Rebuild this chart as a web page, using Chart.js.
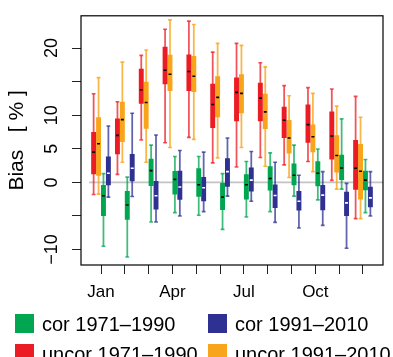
<!DOCTYPE html>
<html><head><meta charset="utf-8">
<script src="https://cdn.jsdelivr.net/npm/chart.js@4.4.0/dist/chart.umd.min.js"></script>
<style>
html,body{margin:0;padding:0;background:#fff;}
#wrap{position:relative;width:393px;height:357px;overflow:hidden;}
#c{position:absolute;left:0;top:0;}
.lgt{position:absolute;font-family:"Liberation Sans",Arial,sans-serif;font-size:20px;line-height:20px;color:#000;white-space:nowrap;}
.lgs{position:absolute;width:19px;height:19px;}
</style></head><body>
<div id="wrap"><canvas id="c" width="393" height="357"></canvas><div id="legend"></div></div>
<script>
// ---------- data ----------
const months = [1,2,3,4,5,6,7,8,9,10,11,12];
const monthLabels = ['Jan','','','Apr','','','Jul','','','Oct','',''];
const yTickValues = [-10,-5,0,5,10,15,20];
const yTickLabels = ['\u221210','','0','5','10','','20'];

const seriesNames  = ['uncor 1971\u20131990','uncor 1991\u20132010','cor 1971\u20131990','cor 1991\u20132010'];
const seriesColors = ['#EC1C24','#F9A51B','#00A650','#2E3192'];
const whiskerColors= ['rgba(236,28,36,0.75)','rgba(249,165,27,0.8)','rgba(0,166,80,0.75)','rgba(46,49,146,0.75)'];
const medianColors = ['#000','#000','#000','#fff'];
const legendOrder  = [2,3,0,1];

// uncor 1971–1990
const uncor7190Min = [-1.8, 1.2, 6.3, 5.9, 6.7, 2.9, 2.3, 3.7, 2.6, 3.1, 0.3, -5.4];
const uncor7190Q1  = [1.2, 4.2, 11.7, 14.6, 13.6, 8.1, 9.1, 9.1, 6.6, 5.9, 3.4, -1.1];
const uncor7190Med = [4.5, 7.0, 13.8, 16.7, 16.5, 11.6, 13.4, 12.55, 9.25, 8.6, 6.9, 2.1];
const uncor7190Q3  = [7.5, 9.5, 16.9, 20.2, 19.05, 14.7, 15.6, 14.85, 11.25, 11.6, 10.55, 6.3];
const uncor7190Max = [13.2, 12.0, 18.9, 22.8, 24.0, 19.4, 20.7, 17.8, 14.4, 14.1, 13.9, 12.8];
// uncor 1991–2010
const uncor9110Min = [-1.75, 3.0, 3.0, 5.2, 6.4, 3.65, 5.2, 2.4, 0.73, 1.6, -1.0, -5.4];
const uncor9110Q1  = [1.0, 6.0, 8.0, 13.6, 13.45, 9.7, 10.3, 7.95, 4.3, 4.5, 1.46, -2.55];
const uncor9110Med = [5.75, 9.35, 11.9, 16.1, 15.8, 12.65, 13.25, 10.5, 6.6, 6.8, 4.0, 1.65];
const uncor9110Q3  = [9.7, 12.0, 15.0, 19.0, 18.8, 15.8, 16.1, 13.2, 9.3, 8.6, 7.0, 5.7];
const uncor9110Max = [15.6, 17.9, 19.7, 24.2, 23.5, 20.7, 20.4, 17.2, 12.9, 13.25, 11.35, 9.7];
// cor 1971–1990
const cor7190Min = [-9.5, -11.1, -5.9, -4.5, -4.9, -7.0, -5.15, -4.35, -2.05, -2.6, -1.0, -4.5];
const cor7190Q1  = [-5.0, -5.55, -0.54, -1.8, -2.15, -4.1, -2.55, -1.2, -0.44, -0.58, 0.35, -1.17];
const cor7190Med = [-2.0, -3.36, 1.75, 0.44, -0.35, -2.2, -0.35, 0.58, 1.07, 1.36, 2.15, 0.34];
const cor7190Q3  = [-0.4, -1.3, 3.5, 1.7, 2.1, -0.1, 1.2, 2.4, 2.8, 3.16, 4.1, 1.75];
const cor7190Max = [1.3, 0.78, 5.55, 3.86, 3.85, 1.3, 3.1, 4.4, 5.55, 4.97, 9.45, 3.4];
// cor 1991–2010
const cor9110Min = [-2.2, -2.1, -5.9, -5.0, -4.35, -2.05, -2.8, -5.95, -6.8, -6.4, -9.8, -5.0];
const cor9110Q1  = [-0.44, 0.15, -4.05, -2.6, -2.8, -0.64, -1.37, -3.8, -4.2, -4.15, -5.0, -3.7];
const cor9110Med = [1.36, 2.1, -2.0, -0.69, -0.8, 1.6, 0.34, -1.95, -2.8, -1.9, -3.05, -2.3];
const cor9110Q3  = [3.85, 4.24, 0.19, 1.75, 0.8, 3.6, 2.2, -0.3, -1.27, -0.4, -1.4, -0.64];
const cor9110Max = [8.4, 10.3, 7.05, 4.74, 4.5, 6.6, 4.6, 3.0, 1.07, 1.6, -0.15, 1.6];

const seriesStats = [
  [uncor7190Min, uncor7190Q1, uncor7190Med, uncor7190Q3, uncor7190Max],
  [uncor9110Min, uncor9110Q1, uncor9110Med, uncor9110Q3, uncor9110Max],
  [cor7190Min, cor7190Q1, cor7190Med, cor7190Q3, cor7190Max],
  [cor9110Min, cor9110Q1, cor9110Med, cor9110Q3, cor9110Max]
];

const X_MIN = 0.16, X_MAX = 12.84, Y_MIN = -12.3, Y_MAX = 24.8;
const CAT_PCT = 0.826;
const TICK_H = 0.12;   // half-height (data units) of the median/cap strokes
const FONT = '"Liberation Sans", Arial, sans-serif';

// ---------- datasets ----------
const datasets = [];
seriesStats.forEach((st, s) => {
  const [mn, q1, md, q3, mx] = st;
  const base = {type:'bar', stack:'g'+s, categoryPercentage:CAT_PCT, borderWidth:0, borderSkipped:false};
  datasets.push(Object.assign({}, base, {label:'wh'+s, order:4, barPercentage:0.36, backgroundColor:whiskerColors[s],
    data: months.map((m,i)=>({x:m, y:[mn[i], mx[i]]}))}));
  datasets.push(Object.assign({}, base, {label:'capLo'+s, order:3, barPercentage:0.78, backgroundColor:whiskerColors[s],
    data: months.map((m,i)=>({x:m, y:[mn[i]-TICK_H, mn[i]+TICK_H]}))}));
  datasets.push(Object.assign({}, base, {label:'capHi'+s, order:3, barPercentage:0.78, backgroundColor:whiskerColors[s],
    data: months.map((m,i)=>({x:m, y:[mx[i]-TICK_H, mx[i]+TICK_H]}))}));
  datasets.push(Object.assign({}, base, {label:seriesNames[s], order:1, barPercentage:1.0, backgroundColor:seriesColors[s],
    data: months.map((m,i)=>({x:m, y:[q1[i], q3[i]]}))}));
  datasets.push(Object.assign({}, base, {label:'med'+s, order:0, barPercentage:0.6, backgroundColor:medianColors[s],
    data: months.map((m,i)=>({x:m, y:[md[i]-TICK_H, md[i]+TICK_H]}))}));
});
datasets.push({type:'line', label:'zero', order:10, borderColor:'#c4c4c4', borderWidth:1.6, pointRadius:0,
  data:[{x:months[0]-0.5, y:0},{x:X_MAX, y:0}]});

const framePlugin = {
  id:'frame',
  afterDraw(chart){
    const {ctx, chartArea:a} = chart;
    ctx.save(); ctx.strokeStyle='#000'; ctx.lineWidth=1.2;
    ctx.strokeRect(a.left, a.top, a.right-a.left, a.bottom-a.top);
    ctx.restore();
  }
};

new Chart(document.getElementById('c'), {
  type:'bar',
  data:{datasets},
  plugins:[framePlugin],
  options:{
    responsive:false, animation:false, devicePixelRatio:1,
    layout:{padding:{left:0, right:10, top:11, bottom:52}},
    plugins:{legend:{display:false}, tooltip:{enabled:false}},
    scales:{
      x:{type:'linear', min:X_MIN, max:X_MAX, offset:false,
        grid:{display:true, offset:false, drawOnChartArea:false, drawTicks:true, tickLength:9, color:'#222', lineWidth:1},
        border:{display:false},
        afterBuildTicks(sc){ sc.ticks = months.map(v=>({value:v})); },
        afterFit(sc){ sc.height = 40; },
        ticks:{autoSkip:false, maxRotation:0, minRotation:0, padding:8, color:'#000',
          font:{family:FONT, size:17}, callback:(v,i)=>monthLabels[i]}
      },
      y:{type:'linear', min:Y_MIN, max:Y_MAX, stacked:false,
        grid:{display:true, drawOnChartArea:false, drawTicks:true, tickLength:9, color:'#222', lineWidth:1},
        border:{display:false},
        afterBuildTicks(sc){ sc.ticks = yTickValues.map(v=>({value:v})); },
        afterFit(sc){ sc.width = 81; },
        ticks:{autoSkip:false, minRotation:90, maxRotation:90, crossAlign:'center', padding:5, color:'#000',
          font:{family:FONT, size:18}, callback:(v,i)=>yTickLabels[i]},
        title:{display:true, text:'Bias   [ % ]', color:'#000', font:{family:FONT, size:21}, padding:{top:5, bottom:0}}
      }
    }
  }
});

// ---------- legend (HTML text) ----------
const lg = document.getElementById('legend');
const colX = [15, 208], rowY = [314, 344];
legendOrder.forEach((s, k) => {
  const c = k % 2, r = Math.floor(k / 2);
  const sw = document.createElement('div');
  sw.className = 'lgs'; sw.style.left = colX[c]+'px'; sw.style.top = rowY[r]+'px'; sw.style.background = seriesColors[s];
  lg.appendChild(sw);
  const t = document.createElement('div');
  t.className = 'lgt'; t.style.left = (colX[c]+27)+'px'; t.style.top = (rowY[r]+0)+'px'; t.textContent = seriesNames[s];
  lg.appendChild(t);
});
</script>
</body></html>
